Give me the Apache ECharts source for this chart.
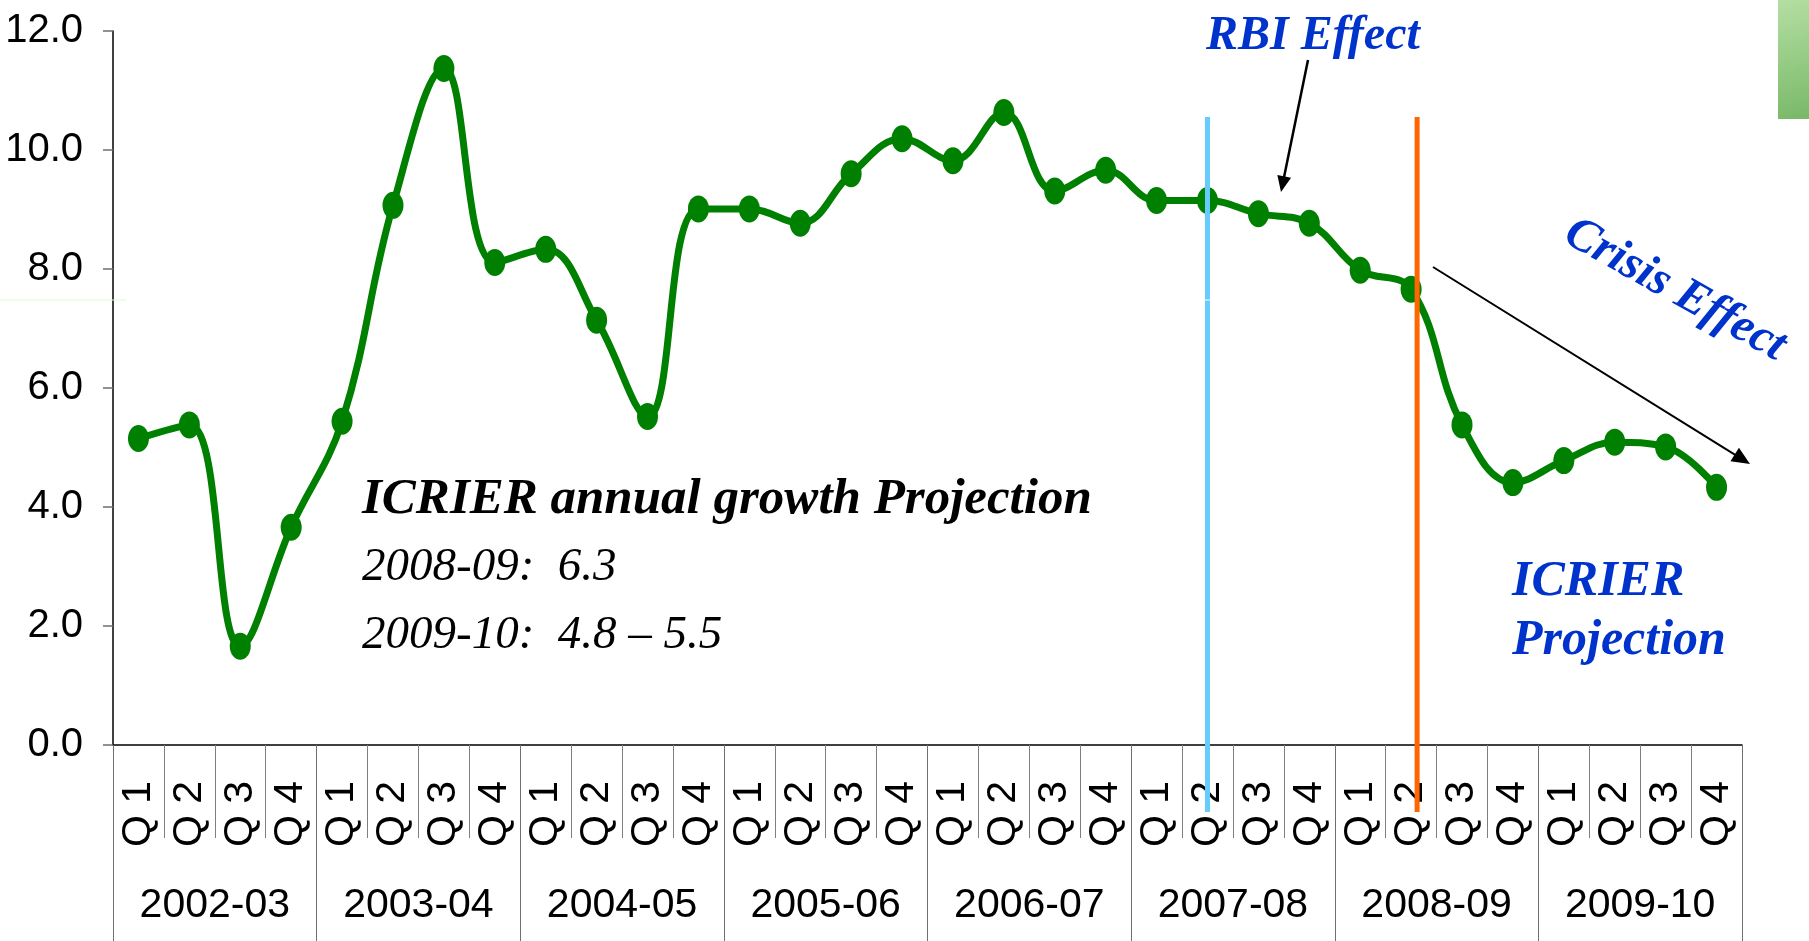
<!DOCTYPE html>
<html>
<head>
<meta charset="utf-8">
<script src="https://cdn.jsdelivr.net/npm/echarts@6/dist/echarts.min.js"></script>
<style>
html,body{margin:0;padding:0;background:#fff;}
#chart{width:1809px;height:941px;}
</style>
</head>
<body>
<div id="chart"></div>
<script>
const years = ['2002-03','2003-04','2004-05','2005-06','2006-07','2007-08','2008-09','2009-10'];
const quarterLabels = ['Q 1','Q 2','Q 3','Q 4'];
const gdpGrowth = [5.15, 5.38, 1.66, 3.66, 5.44, 9.07, 11.37, 8.11, 8.33, 7.14, 5.52, 9.01,
                   9.01, 8.77, 9.60, 10.19, 9.82, 10.63, 9.31, 9.66, 9.15, 9.15, 8.93, 8.77,
                   7.98, 7.66, 5.38, 4.41, 4.78, 5.09, 5.01, 4.33];
const yTicks = [0, 2, 4, 6, 8, 10, 12];
const rbiIndex = 21;     // Q2 2007-08
const crisisIndex = 25;  // Q2 2008-09
const annotationLines = ['ICRIER annual growth Projection', '2008-09:  6.3', '2009-10:  4.8 \u2013 5.5'];

const categories = [];
years.forEach(y => quarterLabels.forEach(q => categories.push(q + '|' + y)));

const sans = "'Liberation Sans',Arial,sans-serif";
const serif = "'Liberation Serif','Times New Roman',serif";
const blue = '#0033cc';

const chart = echarts.init(document.getElementById('chart'), null, {renderer: 'canvas'});

const option = {
  animation: false,
  backgroundColor: '#ffffff',
  grid: {left: 113, right: 67, top: 31, bottom: 196, containLabel: false, outerBoundsMode: 'none'},
  xAxis: [
    {
      type: 'category',
      data: categories,
      boundaryGap: true,
      position: 'bottom',
      axisLine: {show: true, lineStyle: {color: '#000', width: 1.5}},
      axisTick: {show: true, interval: 0, length: 93, lineStyle: {color: '#7f7f7f', width: 1}},
      axisLabel: {
        interval: 0, rotate: 90, margin: 36,
        fontFamily: sans, fontSize: 41, color: '#000',
        formatter: v => v.split('|')[0]
      },
      splitLine: {show: false}
    },
    {
      type: 'category',
      data: years,
      boundaryGap: true,
      position: 'bottom',
      axisLine: {show: false},
      axisTick: {show: true, interval: 0, length: 196, lineStyle: {color: '#6f6f6f', width: 1}},
      axisLabel: {
        interval: 0, margin: 161, verticalAlign: 'middle',
        fontFamily: sans, fontSize: 41, color: '#000'
      },
      splitLine: {show: false}
    }
  ],
  yAxis: {
    type: 'value',
    min: yTicks[0], max: yTicks[yTicks.length - 1], interval: 2,
    axisLine: {show: true, lineStyle: {color: '#000', width: 1.5}},
    axisTick: {show: true, length: 10, lineStyle: {color: '#6f6f6f', width: 1.5}},
    axisLabel: {
      margin: 30, fontFamily: sans, fontSize: 40, color: '#000',
      verticalAlign: 'middle', padding: [0, 0, 8, 0],
      formatter: v => v.toFixed(1)
    },
    splitLine: {show: false}
  },
  series: [{
    type: 'line',
    data: gdpGrowth,
    xAxisIndex: 0,
    smooth: 0.4,
    symbol: 'path://M0,1 A1,1 0 1,1 2,1 A1,1 0 1,1 0,1 Z',
    symbolSize: [21, 27],
    symbolKeepAspect: false,
    showAllSymbol: true,
    itemStyle: {color: '#008000'},
    lineStyle: {color: '#008000', width: 7},
    z: 3
  }]
};
chart.setOption(option);

function arrow(x1, y1, x2, y2, width, headLen, headHalf) {
  const dx = x2 - x1, dy = y2 - y1, L = Math.sqrt(dx*dx + dy*dy);
  const ux = dx / L, uy = dy / L, px = -uy, py = ux;
  const bx = x2 - ux * headLen, by = y2 - uy * headLen;
  return [
    {type: 'line', z: 50, shape: {x1: x1, y1: y1, x2: bx + ux*2, y2: by + uy*2}, style: {stroke: '#000', lineWidth: width}},
    {type: 'polygon', z: 50, shape: {points: [[x2, y2], [bx + px*headHalf, by + py*headHalf], [bx - px*headHalf, by - py*headHalf]]}, style: {fill: '#000'}}
  ];
}

function txt(text, x, y, font, fill, extra) {
  const el = {type: 'text', z: 60, style: {text: text, x: x, y: y, font: font, fill: fill,
    align: 'left', verticalAlign: 'middle', textAlign: 'left', textVerticalAlign: 'middle'}};
  return Object.assign(el, extra || {});
}

function drawAnnotations() {
  const xr = chart.convertToPixel({xAxisIndex: 0}, rbiIndex);
  const xc = chart.convertToPixel({xAxisIndex: 0}, crisisIndex) + 6;
  const els = [];
  // vertical marker lines
  els.push({type: 'line', z: 40, shape: {x1: xr, y1: 117, x2: xr, y2: 812}, style: {stroke: '#66ccff', lineWidth: 5}});
  els.push({type: 'rect', z: 41, shape: {x: xr - 3, y: 299.5, width: 6, height: 1}, style: {fill: '#ffffff'}});
  els.push({type: 'line', z: 40, shape: {x1: xc, y1: 117, x2: xc, y2: 812}, style: {stroke: '#ff6600', lineWidth: 5}});
  // arrows
  arrow(1308, 60, 1281, 192, 2.5, 16, 7).forEach(e => els.push(e));
  arrow(1433, 267, 1750, 464, 2, 18, 8).forEach(e => els.push(e));
  // projection text block
  els.push(txt(annotationLines[0], 362, 500, 'italic bold 51px ' + serif, '#000'));
  els.push(txt(annotationLines[1], 362, 568, 'italic 47px ' + serif, '#000'));
  els.push(txt(annotationLines[2], 362, 636, 'italic 47px ' + serif, '#000'));
  // blue labels
  els.push(txt('RBI Effect', 1206, 37, 'italic bold 48px ' + serif, blue));
  const crisis = txt('Crisis Effect', 0, 0, 'italic bold 48px ' + serif, blue, {x: 1675, y: 290, rotation: -0.51});
  crisis.style.align = 'center'; crisis.style.textAlign = 'center';
  els.push(crisis);
  els.push(txt('ICRIER', 1512, 582, 'italic bold 50px ' + serif, blue));
  els.push(txt('Projection', 1512, 641, 'italic bold 50px ' + serif, blue));
  // decorative slide elements
  els.push({type: 'rect', z: 10, shape: {x: 1778, y: 0, width: 31, height: 119},
    style: {fill: new echarts.graphic.LinearGradient(0, 0, 1, 1, [{offset: 0, color: '#b4dfa3'}, {offset: 1, color: '#79b868'}])}});
  els.push({type: 'line', z: 10, shape: {x1: 0, y1: 300, x2: 126, y2: 300}, style: {stroke: '#dcffc8', lineWidth: 1}});
  chart.setOption({graphic: {elements: els}});
}
drawAnnotations();
</script>
</body>
</html>
